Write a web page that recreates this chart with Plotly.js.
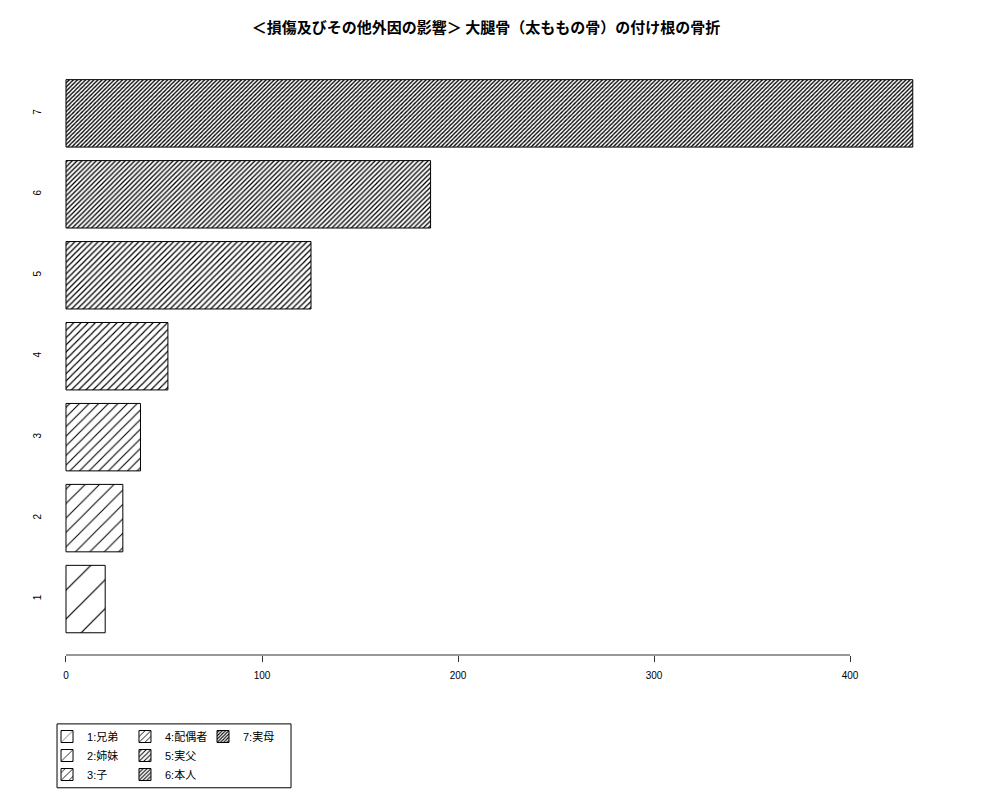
<!DOCTYPE html>
<html>
<head>
<meta charset="utf-8">
<script src="https://cdn.plot.ly/plotly-3.0.1.min.js"></script>
<style>
  body { margin: 0; background: #fff; }
  #chart { width: 1000px; height: 800px; }
</style>
</head>
<body>
<div id="chart"></div>
<script>
// categories and values
const categories = ['1', '2', '3', '4', '5', '6', '7'];
const legendNames = ['1:兄弟', '2:姉妹', '3:子', '4:配偶者', '5:実父', '6:本人', '7:実母'];
const counts = [20, 29, 38, 52, 125, 186, 432];
const xTicks = [0, 100, 200, 300, 400];

// hatch spacing per bar (R density 5..35 lines per inch)
const hatchSize = [20.4, 10.2, 6.8, 5.1, 4.1, 3.4, 2.9];
const hatchSolidity = [0.06, 0.1, 0.16, 0.22, 0.3, 0.38, 0.45];
const legendOf = ['legend', 'legend', 'legend', 'legend2', 'legend2', 'legend2', 'legend3'];

const font = 'Liberation Sans, Noto Sans CJK JP, sans-serif';

const traces = categories.map((c, i) => ({
    type: 'bar',
    orientation: 'h',
    x: [counts[i]],
    y: [c],
    name: legendNames[i],
    legend: legendOf[i],
    width: 0.833,
    marker: {
        color: 'white',
        line: { color: 'black', width: 1 },
        pattern: { shape: '/', size: hatchSize[i], solidity: hatchSolidity[i], fgcolor: 'black', bgcolor: 'white' }
    },
    hoverinfo: 'x+name'
}));

const legendBase = {
    orientation: 'v',
    bgcolor: 'rgba(0,0,0,0)',
    borderwidth: 0,
    font: { family: font, size: 11, color: '#000' },
    yanchor: 'top',
    y: -0.1104,
    xanchor: 'left',
    tracegroupgap: 0
};

const layout = {
    width: 1000,
    height: 800,
    margin: { l: 50, r: 50, t: 58, b: 144 },
    paper_bgcolor: 'white',
    plot_bgcolor: 'white',
    barmode: 'overlay',
    title: {
        text: '<b>＜損傷及びその他外因の影響＞ 大腿骨（太ももの骨）の付け根の骨折</b>',
        font: { family: 'Noto Sans CJK JP, sans-serif', size: 15, color: '#000' },
        xref: 'paper', x: 0.4844, xanchor: 'center',
        yref: 'container', y: 0.965, yanchor: 'middle'
    },
    xaxis: {
        range: [-8.16, 451],
        tickvals: xTicks,
        ticktext: xTicks.map(String),
        showgrid: false, zeroline: false, showline: false,
        ticks: 'outside', ticklen: 6, tickcolor: '#333', tickwidth: 1,
        ticklabelstandoff: 5,
        tickfont: { family: font, size: 10, color: '#000' }
    },
    yaxis: {
        type: 'category',
        categoryorder: 'array',
        categoryarray: categories,
        range: [-0.691, 6.684],
        showgrid: false, zeroline: false, showline: false,
        ticks: '',
        tickangle: -90,
        ticklabelstandoff: 6,
        tickfont: { family: font, size: 10, color: '#000' }
    },
    legend: Object.assign({}, legendBase, { x: -0.0033 }),
    legend2: Object.assign({}, legendBase, { x: 0.0833 }),
    legend3: Object.assign({}, legendBase, { x: 0.17 }),
    shapes: [
        // axis line from 0 to 400, like the R axis
        { type: 'line', xref: 'x', yref: 'paper', x0: xTicks[0], x1: xTicks[xTicks.length - 1], y0: 0, y1: 0,
          line: { color: '#333', width: 1 } },
        // legend frame
        { type: 'rect', xref: 'paper', yref: 'paper', x0: 0.0078, x1: 0.2678, y0: -0.1154, y1: -0.2224,
          line: { color: '#000', width: 1 }, fillcolor: 'rgba(0,0,0,0)' }
    ]
};

Plotly.newPlot('chart', traces, layout, { displayModeBar: false, staticPlot: true });
</script>
</body>
</html>
